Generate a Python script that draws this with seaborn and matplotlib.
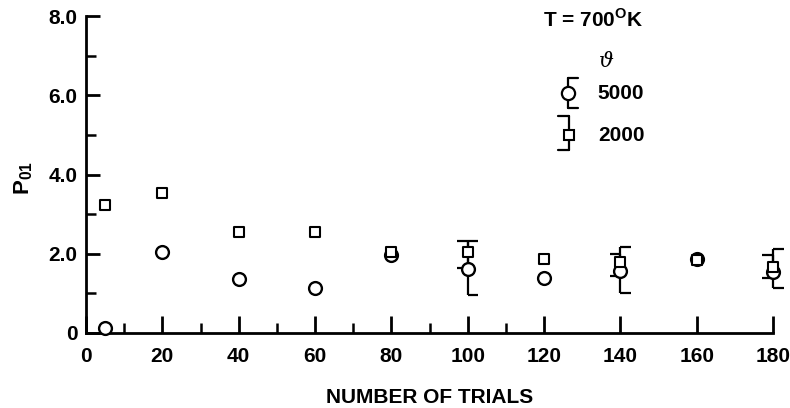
import numpy as np
import pandas as pd
import matplotlib
matplotlib.use("Agg")
import matplotlib.pyplot as plt
import seaborn as sns

# ---------------- data ----------------
trials = [5, 20, 40, 60, 80, 100, 120, 140, 160, 180]
p01_5000 = [0.13, 2.05, 1.36, 1.13, 1.98, 1.62, 1.39, 1.57, 1.87, 1.54]
p01_2000 = [3.22, 3.53, 2.55, 2.55, 2.05, 2.05, 1.86, 1.80, 1.83, 1.67]

err_trials = [100, 140, 180]
lo_5000 = [0.95, 1.00, 1.14]
hi_5000 = [2.32, 2.17, 2.11]
lo_2000 = [1.65, 1.44, 1.38]
hi_2000 = [2.32, 1.99, 1.98]

series_labels = ["5000", "2000"]
y_ticks = [0, 2, 4, 6, 8]
y_ticklabels = ["0", "2.0", "4.0", "6.0", "8.0"]
x_ticks = [0, 20, 40, 60, 80, 100, 120, 140, 160, 180]
x_ticklabels = ["0", "20", "40", "60", "80", "100", "120", "140", "160", "180"]
x_minor = [10, 30, 50, 70, 90, 110]
y_minor = [1, 3, 5, 7]

# ---------------- style ----------------
sns.set_style("white")
plt.rcParams["font.family"] = ["Liberation Sans", "DejaVu Sans"]
plt.rcParams["font.weight"] = "bold"
plt.rcParams["text.color"] = "black"
plt.rcParams["axes.labelcolor"] = "black"
plt.rcParams["mathtext.fontset"] = "custom"
plt.rcParams["mathtext.rm"] = "Liberation Sans:bold"
plt.rcParams["mathtext.bf"] = "Liberation Sans:bold"

fig = plt.figure(figsize=(7.9, 4.08), dpi=100)
ax = fig.add_axes([86 / 790, 1 - 333 / 408, (773 - 86) / 790, (333 - 16) / 408])

df = pd.DataFrame({
    "trials": trials * 2,
    "p01": p01_5000 + p01_2000,
    "series": [series_labels[0]] * len(trials) + [series_labels[1]] * len(trials),
})

# error bars (half caps: circle caps to the right, square caps to the left)
cap = 2.8
lw_err = 1.6
for x, lo, hi in zip(err_trials, lo_5000, hi_5000):
    ax.vlines(x, lo, hi, color="black", lw=lw_err, zorder=2, clip_on=False)
    ax.hlines([lo, hi], x, x + cap, color="black", lw=lw_err, zorder=2, clip_on=False)
for x, lo, hi in zip(err_trials, lo_2000, hi_2000):
    ax.vlines(x, lo, hi, color="black", lw=lw_err, zorder=2, clip_on=False)
    ax.hlines([lo, hi], x - cap, x, color="black", lw=lw_err, zorder=2, clip_on=False)

sub = df[df["series"] == series_labels[0]]
sns.scatterplot(data=sub, x="trials", y="p01", marker="o", s=85, color="black",
                facecolor="white", edgecolor="black", linewidth=1.7, ax=ax,
                zorder=3, clip_on=False, legend=False)
sub = df[df["series"] == series_labels[1]]
sns.scatterplot(data=sub, x="trials", y="p01", marker="s", s=55, color="black",
                facecolor="white", edgecolor="black", linewidth=1.5, ax=ax,
                zorder=4, clip_on=False, legend=False)

ax.set_xlim(0, 180)
ax.set_ylim(0, 8)

for side in ["top", "right"]:
    ax.spines[side].set_visible(False)
for side in ["left", "bottom"]:
    ax.spines[side].set_color("black")
    ax.spines[side].set_linewidth(2.0)

ax.set_xticks(x_ticks)
ax.set_xticklabels(x_ticklabels)
ax.set_yticks(y_ticks)
ax.set_yticklabels(y_ticklabels)
ax.set_xticks(x_minor, minor=True)
ax.set_yticks(y_minor, minor=True)

ax.tick_params(axis="x", which="both", bottom=True, top=False)
ax.tick_params(axis="y", which="both", left=True, right=False)
ax.tick_params(axis="x", which="major", direction="in", length=12, width=2.0,
               pad=10, labelsize=15, colors="black")
ax.tick_params(axis="x", which="minor", direction="in", length=7, width=1.8,
               colors="black")
ax.tick_params(axis="y", which="major", direction="in", length=10, width=2.0,
               pad=6, labelsize=15, colors="black")
ax.tick_params(axis="y", which="minor", direction="in", length=7, width=1.8,
               colors="black")
for lab in ax.get_xticklabels() + ax.get_yticklabels():
    lab.set_fontweight("bold")

ax.set_xlabel("NUMBER OF TRIALS", fontsize=15, fontweight="bold", labelpad=16,
              color="black")
ax.set_ylabel("")
fig.text(24 / 790, 1 - 178 / 408, r"P$_{\mathrm{01}}$", rotation=90, ha="center",
         va="center", fontsize=16, fontweight="bold", color="black")

# annotation and legend
ax.text(0.665, 0.99, r"T = 700$^{\mathrm{O}}$K", transform=ax.transAxes,
        ha="left", va="center", fontsize=15, fontweight="bold", color="black")
ax.text(0.758, 0.855, "\u03d1", transform=ax.transAxes, ha="center",
        va="center", fontsize=15, family="DejaVu Serif", style="italic",
        fontweight="normal", color="black")

tr = ax.transAxes
# circle entry
cx, cy = 0.7016, 0.757
ax.plot([cx, cx], [0.710, 0.804], color="black", lw=1.6, transform=tr, zorder=2)
ax.plot([cx, cx + 0.015], [0.804, 0.804], color="black", lw=1.6, transform=tr)
ax.plot([cx, cx + 0.015], [0.710, 0.710], color="black", lw=1.6, transform=tr)
ax.plot([cx], [cy], marker="o", ms=9.5, mfc="white", mec="black", mew=1.6,
        transform=tr, zorder=3)
ax.text(0.745, cy, series_labels[0], transform=tr, ha="left", va="center",
        fontsize=15, fontweight="bold", color="black")
# square entry
sx, sy = 0.703, 0.6246
ax.plot([sx, sx], [0.577, 0.6845], color="black", lw=1.6, transform=tr, zorder=2)
ax.plot([sx - 0.016, sx], [0.6845, 0.6845], color="black", lw=1.6, transform=tr)
ax.plot([sx - 0.016, sx], [0.577, 0.577], color="black", lw=1.6, transform=tr)
ax.plot([sx], [sy], marker="s", ms=7.5, mfc="white", mec="black", mew=1.5,
        transform=tr, zorder=3)
ax.text(0.745, sy, series_labels[1], transform=tr, ha="left", va="center",
        fontsize=15, fontweight="bold", color="black")

fig.savefig("out.png", dpi=100)
